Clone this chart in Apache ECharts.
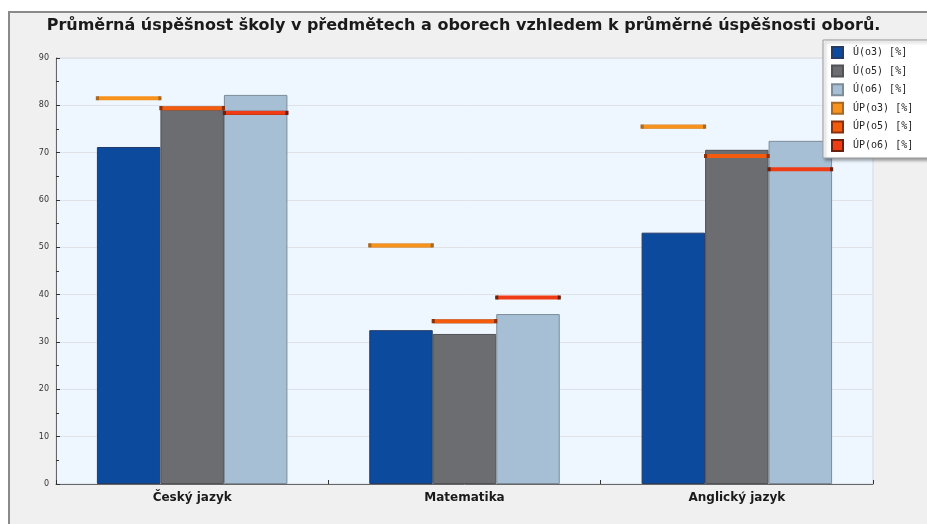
<!DOCTYPE html>
<html>
<head>
<meta charset="utf-8">
<script src="https://cdn.jsdelivr.net/npm/echarts@6/dist/echarts.min.js"></script>
<style>
  html, body { margin: 0; padding: 0; background: #ffffff; }
  #chart { width: 927px; height: 524px; }
</style>
</head>
<body>
<div id="chart"></div>
<script>
// predmety
const categories = ['Český jazyk', 'Matematika', 'Anglický jazyk']
// uspesnost skoly (sloupce)
const uO3 = [71.2, 32.5, 53.1]
const uO5 = [79.4, 31.7, 70.6]
const uO6 = [82.2, 35.9, 72.5]
// prumerna uspesnost oboru (vodorovne znacky)
const upO3 = [81.5, 50.4, 75.5]
const upO5 = [79.4, 34.4, 69.3]
const upO6 = [78.4, 39.4, 66.5]

const barW = 63.5

function barSeries (name, data, color, border) {
  return {
    name: name,
    type: 'bar',
    data: data,
    barWidth: barW,
    barGap: '0%',
    itemStyle: { color: color, borderColor: border, borderWidth: 1 },
    z: 2
  }
}

function markSeries (name, data, color, border, offset) {
  return {
    name: name,
    type: 'scatter',
    data: data,
    symbol: 'rect',
    symbolSize: [barW - 1, 4],
    symbolOffset: [offset, 0],
    itemStyle: { color: color, borderColor: border, borderWidth: 0.8, opacity: 1 },
    z: 5
  }
}

const chart = echarts.init(document.getElementById('chart'))
chart.setOption({
  backgroundColor: '#ffffff',
  animation: false,
  graphic: [{
    type: 'rect',
    shape: { x: 9, y: 12, width: 1000, height: 1000 },
    style: { fill: '#f0f0f0', stroke: '#8a8a8a', lineWidth: 2 },
    z: -10
  }],
  title: {
    text: 'Průměrná úspěšnost školy v předmětech a oborech vzhledem k průměrné úspěšnosti oborů.',
    left: 'center',
    top: 13,
    textStyle: { fontFamily: 'DejaVu Sans', fontSize: 16, fontWeight: 'bold', color: '#1a1a1a' }
  },
  legend: {
    orient: 'vertical',
    left: 823,
    top: 40,
    padding: [6, 30, 6, 8],
    itemWidth: 11,
    itemHeight: 11,
    itemGap: 5.6,
    icon: 'rect',
    backgroundColor: '#ffffff',
    borderColor: '#9a9a9a',
    borderWidth: 1,
    shadowColor: 'rgba(0,0,0,0.35)',
    shadowBlur: 3,
    shadowOffsetX: 2,
    shadowOffsetY: 2,
    textStyle: { fontFamily: 'DejaVu Sans Mono', fontSize: 10, color: '#222', padding: [0, 0, 0, 5], lineHeight: 11 }
  },
  grid: {
    left: 56,
    right: 54,
    top: 58,
    bottom: 40,
    show: true,
    backgroundColor: '#eef6ff',
    borderColor: '#d6dbe0',
    borderWidth: 1
  },
  xAxis: {
    type: 'category',
    data: categories,
    axisLine: { lineStyle: { color: '#666', width: 1 } },
    axisTick: { show: true, inside: true, length: 4, lineStyle: { color: '#333' } },
    axisLabel: { fontFamily: 'DejaVu Sans', fontSize: 12, fontWeight: 'bold', color: '#1a1a1a', margin: 8 }
  },
  yAxis: {
    type: 'value',
    min: 0,
    max: 90,
    interval: 10,
    axisLine: { show: true, lineStyle: { color: '#666', width: 1 } },
    axisTick: { show: true, inside: true, length: 4, lineStyle: { color: '#333' } },
    minorTick: { show: true, splitNumber: 2, length: 3, lineStyle: { color: '#333' } },
    splitLine: { lineStyle: { color: '#dfe3e8' } },
    axisLabel: { fontFamily: 'DejaVu Sans', fontSize: 8, color: '#333', margin: 7 }
  },
  series: [
    barSeries('Ú(o3) [%]', uO3, '#0c4a9e', '#243b66'),
    barSeries('Ú(o5) [%]', uO5, '#6b6d71', '#505256'),
    barSeries('Ú(o6) [%]', uO6, '#a6bfd4', '#7d8c99'),
    markSeries('ÚP(o3) [%]', upO3, '#f7931c', '#a86a22', -barW),
    markSeries('ÚP(o5) [%]', upO5, '#f25c0c', '#8a300c', 0),
    markSeries('ÚP(o6) [%]', upO6, '#f03c14', '#6a200c', barW)
  ]
})
</script>
</body>
</html>
